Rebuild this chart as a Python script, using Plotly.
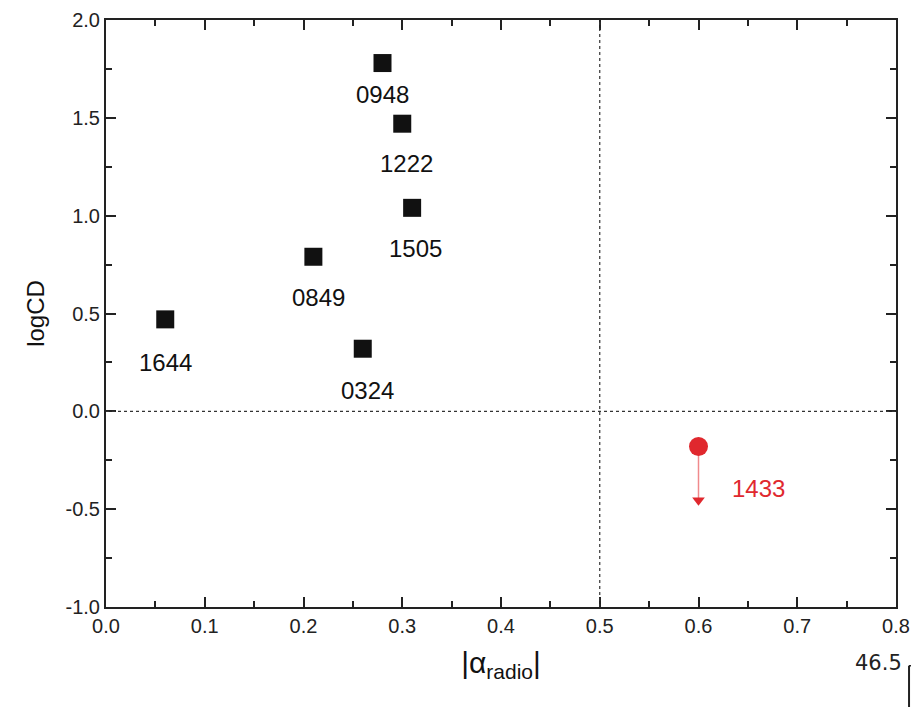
import plotly.graph_objects as go

# Sources with both spectral index and core dominance
names = ["1644", "0849", "0324", "0948", "1222", "1505"]
alpha_radio = [0.06, 0.21, 0.26, 0.28, 0.30, 0.31]
log_cd = [0.47, 0.79, 0.32, 1.78, 1.47, 1.04]

# Upper limit source
limit_name = "1433"
limit_alpha = 0.60
limit_logcd = -0.18
limit_arrow_end = -0.49

# Axis ticks
x_ticks = [0.0, 0.1, 0.2, 0.3, 0.4, 0.5, 0.6, 0.7, 0.8]
x_tick_text = ["0.0", "0.1", "0.2", "0.3", "0.4", "0.5", "0.6", "0.7", "0.8"]
y_ticks = [-1.0, -0.5, 0.0, 0.5, 1.0, 1.5, 2.0]
y_tick_text = ["-1.0", "-0.5", "0.0", "0.5", "1.0", "1.5", "2.0"]

# label offsets in pixels (dx, dy) relative to each point
label_dx = [0, 5, 5, 0, 4, 3]
label_dy = [-43, -41, -42, -31, -40, -41]

FONT = "Liberation Sans, Arial, sans-serif"
RED = "#e0282e"

fig = go.Figure()

fig.add_trace(go.Scatter(
    x=alpha_radio, y=log_cd, mode="markers",
    marker=dict(symbol="square", size=18, color="#111111"),
    showlegend=False, hoverinfo="skip"))

# upper-limit stem and arrowhead
fig.add_trace(go.Scatter(
    x=[limit_alpha, limit_alpha], y=[limit_logcd, limit_arrow_end + 0.04],
    mode="lines", line=dict(color="#f08a8c", width=1.5),
    showlegend=False, hoverinfo="skip"))
fig.add_trace(go.Scatter(
    x=[limit_alpha], y=[limit_arrow_end + 0.035], mode="markers",
    marker=dict(symbol="triangle-down", size=11, color=RED),
    showlegend=False, hoverinfo="skip"))
fig.add_trace(go.Scatter(
    x=[limit_alpha], y=[limit_logcd], mode="markers",
    marker=dict(symbol="circle", size=19, color=RED),
    showlegend=False, hoverinfo="skip"))

for n, xv, yv, dx, dy in zip(names, alpha_radio, log_cd, label_dx, label_dy):
    fig.add_annotation(x=xv, y=yv, text=n, showarrow=False,
                       xshift=dx, yshift=dy,
                       font=dict(family=FONT, size=24, color="#111111"))
fig.add_annotation(x=limit_alpha, y=limit_logcd, text=limit_name,
                   showarrow=False, xshift=60, yshift=-42,
                   font=dict(family=FONT, size=24, color=RED))

# reference lines
fig.add_shape(type="line", x0=0.5, x1=0.5, y0=-1.0, y1=2.0, xref="x", yref="y",
              line=dict(color="#333333", width=1.2, dash="dot"))
fig.add_shape(type="line", x0=0.0, x1=0.8, y0=0.0, y1=0.0, xref="x", yref="y",
              line=dict(color="#333333", width=1.2, dash="dot"))

# small stray mark at bottom right
fig.add_annotation(x=1.01, y=-0.095, xref="paper", yref="paper", text="46.5",
                   showarrow=False, xanchor="right", yanchor="middle",
                   font=dict(family="DejaVu Sans", size=21, color="#222222"))
fig.add_shape(type="line", xref="paper", yref="paper", x0=1.0165, x1=1.0165,
              y0=-0.1, y1=-0.18, line=dict(color="#222222", width=2))
fig.add_shape(type="line", xref="paper", yref="paper", x0=1.0165, x1=1.022,
              y0=-0.1, y1=-0.1, line=dict(color="#222222", width=1.5))

axis_common = dict(
    showgrid=False, zeroline=False, showline=True, linecolor="#222222",
    linewidth=2, mirror="allticks", ticks="inside", ticklen=10, tickwidth=1.5,
    tickcolor="#222222", automargin=False,
    tickfont=dict(family=FONT, size=20, color="#222222"),
)

fig.update_layout(
    width=911, height=707,
    margin=dict(l=106, r=15, t=20, b=100),
    paper_bgcolor="white", plot_bgcolor="white",
    xaxis=dict(range=[0, 0.8], tickvals=x_ticks, ticktext=x_tick_text,
               minor=dict(dtick=0.05, ticks="inside", ticklen=6, tickcolor="#222222", tickwidth=1.5),
               title=dict(text="|α<sub>radio</sub>|", standoff=16,
                          font=dict(family=FONT, size=30, color="#111111")),
               **axis_common),
    yaxis=dict(range=[-1.0, 2.0], tickvals=y_ticks, ticktext=y_tick_text,
               minor=dict(dtick=0.25, ticks="inside", ticklen=6, tickcolor="#222222", tickwidth=1.5),
               title=dict(text="logCD", standoff=14,
                          font=dict(family=FONT, size=24, color="#111111")),
               **axis_common),
)

fig.write_html("out.html")
